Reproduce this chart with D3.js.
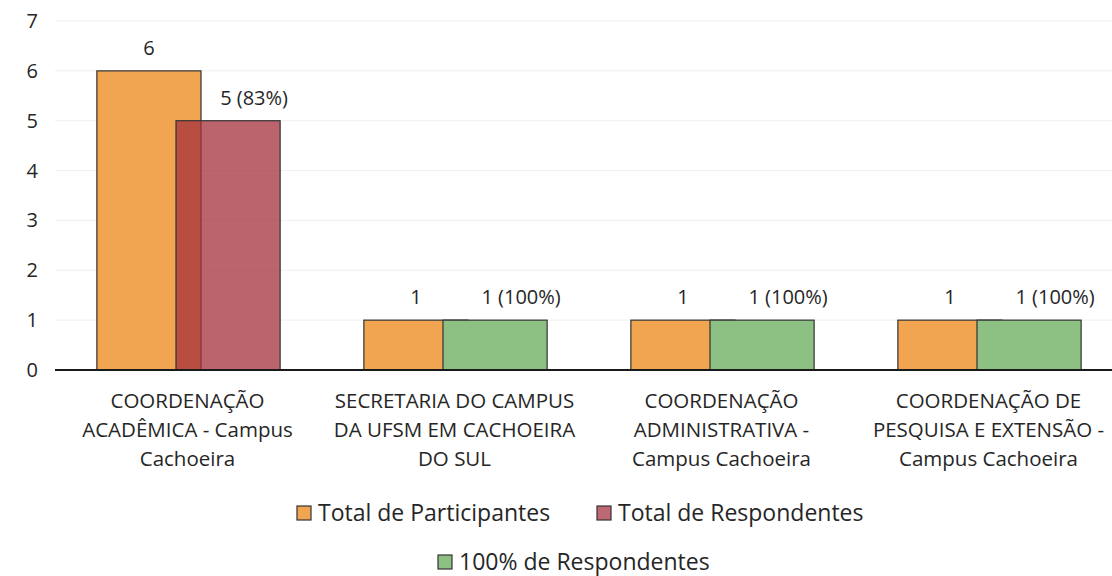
<!DOCTYPE html>
<html>
<head>
<meta charset="utf-8">
<script src="https://cdn.jsdelivr.net/npm/d3@7"></script>
<style>
  body { margin: 0; background: #fff; }
  text { font-family: "Open Sans", "Noto Sans", sans-serif; fill: #262626; }
</style>
</head>
<body>
<script>
var categories = [
  ["COORDENAÇÃO", "ACADÊMICA - Campus", "Cachoeira"],
  ["SECRETARIA  DO CAMPUS", "DA UFSM EM CACHOEIRA", "DO SUL"],
  ["COORDENAÇÃO", "ADMINISTRATIVA -", "Campus Cachoeira"],
  ["COORDENAÇÃO  DE", "PESQUISA E EXTENSÃO -", "Campus Cachoeira"]
];
var participantes = [6, 1, 1, 1];
var respondentes = [5, 0, 0, 0];
var cemPorCento = [0, 1, 1, 1];
var pctLabels = ["5 (83%)", "1 (100%)", "1 (100%)", "1 (100%)"];
var yTicks = [0, 1, 2, 3, 4, 5, 6, 7];
var legendNames = ["Total de Participantes", "Total de Respondentes", "100% de Respondentes"];

var width = 1112, height = 576;
var svg = d3.select("body").append("svg")
  .attr("width", width)
  .attr("height", height);

var plotLeft = 55, plotRight = 1123, plotTop = 21, plotBottom = 370;

var y = d3.scaleLinear().domain([0, 7]).range([plotBottom, plotTop]);
var x = d3.scaleBand().domain(d3.range(categories.length))
  .range([plotLeft, plotRight]).paddingInner(0).paddingOuter(0);

var bw = x.bandwidth() * 0.39;
var step = bw * 0.76;

// gridlines
svg.append("g").selectAll("line")
  .data(yTicks.slice(1))
  .enter().append("line")
  .attr("x1", plotLeft).attr("x2", width)
  .attr("y1", function(d){ return y(d); })
  .attr("y2", function(d){ return y(d); })
  .attr("stroke", "#efefef").attr("stroke-width", 1);

// y tick labels
svg.append("g").selectAll("text")
  .data(yTicks)
  .enter().append("text")
  .attr("x", 38)
  .attr("y", function(d){ return y(d) + 7; })
  .attr("text-anchor", "end")
  .attr("font-size", "20px")
  .text(function(d){ return d; });

function cx(i){ return x(i) + x.bandwidth() / 2; }
function slot0(i){ return cx(i) - step / 2 - bw / 2; }
function slot1(i){ return cx(i) + step / 2 - bw / 2; }

// orange bars
svg.append("g").selectAll("rect")
  .data(participantes)
  .enter().append("rect")
  .attr("x", function(d, i){ return slot0(i); })
  .attr("y", function(d){ return y(d); })
  .attr("width", bw)
  .attr("height", function(d){ return plotBottom - y(d); })
  .attr("fill", "#F2A550")
  .attr("stroke", "#333").attr("stroke-width", 1.2);

// green bars
svg.append("g").selectAll("rect")
  .data(cemPorCento.map(function(d, i){ return {v: d, i: i}; }).filter(function(d){ return d.v > 0; }))
  .enter().append("rect")
  .attr("x", function(d){ return slot1(d.i); })
  .attr("y", function(d){ return y(d.v); })
  .attr("width", bw)
  .attr("height", function(d){ return plotBottom - y(d.v); })
  .attr("fill", "#8DC183")
  .attr("stroke", "#333").attr("stroke-width", 1.2);

// red bars (semi-transparent)
svg.append("g").selectAll("rect")
  .data(respondentes.map(function(d, i){ return {v: d, i: i}; }).filter(function(d){ return d.v > 0; }))
  .enter().append("rect")
  .attr("x", function(d){ return slot1(d.i); })
  .attr("y", function(d){ return y(d.v); })
  .attr("width", bw)
  .attr("height", function(d){ return plotBottom - y(d.v); })
  .attr("fill", "rgba(164,48,60,0.75)")
  .attr("stroke", "#333").attr("stroke-width", 1.2);

// axis baseline
svg.append("line")
  .attr("x1", plotLeft).attr("x2", width)
  .attr("y1", plotBottom).attr("y2", plotBottom)
  .attr("stroke", "#1a1a1a").attr("stroke-width", 2);

// data labels
svg.append("g").selectAll("text")
  .data(participantes)
  .enter().append("text")
  .attr("x", function(d, i){ return slot0(i) + bw / 2; })
  .attr("y", function(d){ return y(d) - 16; })
  .attr("text-anchor", "middle")
  .attr("font-size", "20px")
  .text(function(d){ return d; });

var secondVals = respondentes.map(function(d, i){ return Math.max(d, cemPorCento[i]); });
svg.append("g").selectAll("text")
  .data(secondVals)
  .enter().append("text")
  .attr("x", function(d, i){ return slot1(i) + bw / 2 + 26; })
  .attr("y", function(d){ return y(d) - 16; })
  .attr("text-anchor", "middle")
  .attr("font-size", "20px")
  .text(function(d, i){ return pctLabels[i]; });

// category labels
var cat = svg.append("g").selectAll("text")
  .data(categories)
  .enter().append("text")
  .attr("text-anchor", "middle")
  .attr("font-size", "20.5px");
cat.selectAll("tspan")
  .data(function(d, i){ return d.map(function(s){ return {s: s, i: i}; }); })
  .enter().append("tspan")
  .attr("x", function(d){ return cx(d.i) - 1; })
  .attr("y", function(d, j){ return 408 + j * 29; })
  .text(function(d){ return d.s; });

// legend
var legendItems = [
  {name: legendNames[0], color: "#F2A550", x: 297, y: 513},
  {name: legendNames[1], color: "#BD6872", x: 597, y: 513},
  {name: legendNames[2], color: "#8DC183", x: 438, y: 562}
];
var lg = svg.append("g").selectAll("g")
  .data(legendItems)
  .enter().append("g")
  .attr("transform", function(d){ return "translate(" + d.x + "," + d.y + ")"; });
lg.append("rect")
  .attr("x", 0).attr("y", -7)
  .attr("width", 14).attr("height", 14)
  .attr("fill", function(d){ return d.color; })
  .attr("stroke", "#333").attr("stroke-width", 1.2);
lg.append("text")
  .attr("x", 21).attr("y", 8)
  .attr("font-size", "23px")
  .text(function(d){ return d.name; });
</script>
</body>
</html>
